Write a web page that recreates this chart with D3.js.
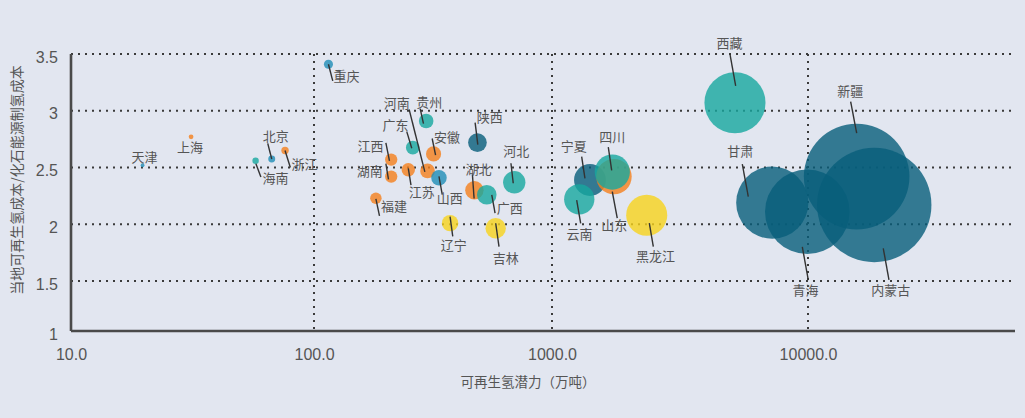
<!DOCTYPE html>
<html><head><meta charset="utf-8">
<script src="https://cdn.jsdelivr.net/npm/d3@7"></script>
<style>html,body{margin:0;padding:0;background:#e2e6f0;} svg{display:block;}</style>
</head><body><svg id="c" width="1025" height="418"></svg>
<script>
// ---------- data ----------
const provinces = ["天津","上海","海南","北京","浙江","重庆","福建","江西","湖南","江苏","广东","贵州","河南","安徽","山西","辽宁","湖北","陕西","广西","吉林","河北","宁夏","云南","山东","四川","黑龙江","西藏","甘肃","青海","新疆","内蒙古"];
const potential = [19.7,31.2,57.5,67,76,115,182,211,211,249,260,296,300,318,335,373,472,486,532,580,694,1407,1278,1746,1720,2344,5185,7253,9938,15495,18155];
const costRatio = [2.52,2.77,2.56,2.575,2.65,3.41,2.23,2.57,2.42,2.48,2.675,2.91,2.47,2.62,2.41,2.01,2.30,2.72,2.26,1.965,2.37,2.39,2.22,2.42,2.46,2.08,3.07,2.19,2.11,2.42,2.17];
const groups = ["B","O","T","B","O","B","O","O","O","O","T","T","O","O","B","Y","O","D","T","Y","T","D","T","O","T","Y","T","D","D","D","D"];
const xTickValues = [10,100,1000,10000];
const xTickLabels = ["10.0","100.0","1000.0","10000.0"];
const yTickValues = [1.06,1.5,2,2.5,3,3.5];
const yTickLabels = ["1","1.5","2","2.5","3","3.5"];
const xTitle = "可再生氢潜力（万吨）";
const yTitle = "当地可再生氢成本/化石能源制氢成本";

// ---------- layout (label offsets from bubble centre: [lx,ly, x1,y1,x2,y2]) ----------
const labelLayout = {
  "天津":[2,-9], "上海":[-1,10],
  "北京":[4,-24,-4,-15.7,0,0], "浙江":[19.5,12.6,0,0,5.3,17], "海南":[19.8,17.2,0.3,3,5.3,16.4],
  "重庆":[18,11,0,0,4.3,16.7], "贵州":[3.2,-19.9,-6,-12.4,-2.7,2.6], "河南":[-30.7,-68.2,-18.4,-61.4,-2.7,1],
  "广东":[-17.2,-22.7,-6,-16,-1,0.6], "安徽":[13.5,-17,-1.4,-15.4,2,1.3], "江西":[-20.7,-14.3,-5.3,-16.6,-1.7,1.4],
  "湖南":[-21.3,-6.5,-5.3,-13,-2.7,2.7], "江苏":[13.4,22,0,-1.4,2.7,15.3], "山西":[10.7,19.5,0,-1.3,3.3,17],
  "福建":[18.1,7.5,0,0.7,3.6,17.7], "陕西":[12.4,-25.8,-2.3,-20,0.4,2], "河北":[2,-32.1,-3.3,-19,-1,1],
  "湖北":[4,-21.5,-2,-16,-0.3,8.3], "广西":[23,13.2,5,0,8.3,18.3], "辽宁":[3.8,21.5,0,-6.6,2.7,13.3],
  "吉林":[10.1,29.2,0,-5,3.3,18.4], "宁夏":[-16.3,-35,-8.3,-23.3,-5,-1.7], "四川":[-0.1,-35.9,-4,-25,-0.6,-1.7],
  "山东":[0.2,48.3,-1.7,15,3.3,41.6], "云南":[0.2,34,-2.6,0.7,1.4,24], "黑龙江":[8.8,39.9,2.6,8,6.6,31.4],
  "西藏":[-5.5,-60.2,-5,-48.7,0.7,-17], "新疆":[-6.4,-85.9,-6,-75,0,-43.4], "甘肃":[-32,-51.9,-30,-38.7,-24,-6],
  "青海":[-1.8,77.5,-5,35,1,68.3], "内蒙古":[16.5,84.2,9,43.3,14.7,75]
};

const svg = d3.select("#c");
const W = 1025, H = 418;
svg.append("rect").attr("width",W).attr("height",H).attr("fill","#e2e6f0");

const x = d3.scaleLog().domain([10,100,1000,10000,65000]).range([71,314,552,808,1016]);
const y = d3.scaleLinear().domain([1.06,3.5]).range([331,54]);
const r = d3.scaleSqrt().domain([0,20000]).range([0,60]);
const color = d3.scaleOrdinal().domain(["O","T","B","D","Y"])
  .range(["#f57f1c","#17a89f","#1f8db7","#085e7a","#f7d31c"]);

const numFont = "'Liberation Sans', Arial, sans-serif";
const cjkFont = "'Noto Sans CJK SC', sans-serif";

// grid
const g = svg.append("g");
g.selectAll(".hg").data(yTickValues.slice(1)).enter().append("line")
  .attr("x1",x(10)).attr("x2",1015).attr("y1",d=>y(d)).attr("y2",d=>y(d))
  .attr("stroke","#3a3a3a").attr("stroke-width",2).attr("stroke-dasharray","2,5");
g.selectAll(".vg").data(xTickValues.slice(1)).enter().append("line")
  .attr("x1",d=>x(d)).attr("x2",d=>x(d)).attr("y1",y(3.5)).attr("y2",y(1.06))
  .attr("stroke","#3a3a3a").attr("stroke-width",2).attr("stroke-dasharray","2,5");

// axes
const xAxis = d3.axisBottom(x).tickValues(xTickValues).tickSize(0).tickFormat((d,i)=>xTickLabels[i]);
const ax = svg.append("g").attr("transform",`translate(0,${y(1.06)})`).call(xAxis);
ax.select(".domain").attr("d",`M${x(10)},0H1015`).attr("stroke","#4a4a4a").attr("stroke-width",2.6);
ax.selectAll("text").attr("font-family",numFont).attr("font-size",16).attr("fill","#555").attr("dy","1.6em");

const yAxis = d3.axisLeft(y).tickValues(yTickValues).tickSize(0).tickFormat((d,i)=>yTickLabels[i]);
const ay = svg.append("g").attr("transform",`translate(${x(10)},0)`).call(yAxis);
ay.select(".domain").attr("d",`M0,${y(3.5)}V${y(1.06)}`).attr("stroke","#4a4a4a").attr("stroke-width",2.6);
ay.selectAll("text").attr("font-family",numFont).attr("font-size",16).attr("fill","#555").attr("x",-13).attr("dy","0.5em");

// titles
svg.append("text").attr("x",528).attr("y",387).attr("text-anchor","middle")
  .attr("font-family",cjkFont).attr("font-size",13.5).attr("fill","#555").text(xTitle);
svg.append("text").attr("transform","translate(22,180) rotate(-90)").attr("text-anchor","middle")
  .attr("font-family",cjkFont).attr("font-size",14).attr("fill","#555").text(yTitle);

// data table
const data = provinces.map((p,i)=>({name:p, pot:potential[i], cost:costRatio[i], grp:groups[i]}));

svg.append("g").selectAll("circle").data(data).enter().append("circle")
  .attr("cx",d=>x(d.pot)).attr("cy",d=>y(d.cost)).attr("r",d=>r(d.pot))
  .attr("fill",d=>color(d.grp)).attr("fill-opacity",0.8);

const lg = svg.append("g");
data.forEach(d=>{
  const L = labelLayout[d.name]; if(!L) return;
  const cx = x(d.pot), cy = y(d.cost);
  if (L.length>2) {
    lg.append("line").attr("x1",cx+L[2]).attr("y1",cy+L[3]).attr("x2",cx+L[4]).attr("y2",cy+L[5])
      .attr("stroke","#333").attr("stroke-width",1.4);
  }
  lg.append("text").attr("x",cx+L[0]).attr("y",cy+L[1]).attr("text-anchor","middle")
    .attr("dominant-baseline","central").attr("font-family",cjkFont).attr("font-size",13)
    .attr("fill","#555").text(d.name);
});
</script>
</body></html>
